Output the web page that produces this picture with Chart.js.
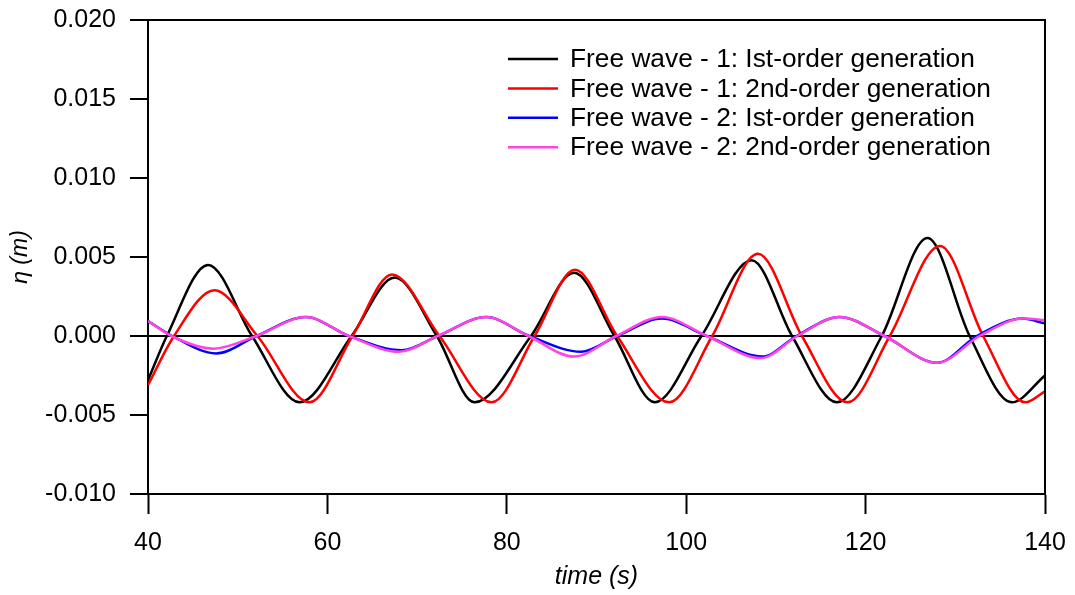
<!DOCTYPE html>
<html>
<head>
<meta charset="utf-8">
<script src="https://cdn.jsdelivr.net/npm/chart.js@4/dist/chart.umd.min.js"></script>
<style>
  body { margin: 0; background: #fff; }
  canvas { display: block; }
</style>
</head>
<body>
<canvas id="waveChart" width="1075" height="595"></canvas>
<script>
// Free wave 1, first-order generation (peaks, troughs, zero crossings)
const tFw1First = [40, 42.1, 46.7, 51.6, 56.9, 62.7, 67.5, 72.2, 76.4, 82.7, 87.5, 92.0, 96.5, 101.7, 107.3, 111.8, 116.8, 121.8, 126.9, 131.6, 136.3, 140];
const etaFw1First = [-0.0028, 0, 0.0045, 0, -0.0042, 0, 0.0037, 0, -0.0042, 0, 0.0040, 0, -0.0042, 0, 0.0048, 0, -0.0042, 0, 0.0062, 0, -0.0042, -0.0025];

// Free wave 1, second-order generation
const tFw1Second = [40, 42.9, 47.4, 52.2, 58.0, 62.8, 67.2, 72.5, 78.3, 83.1, 87.6, 92.3, 98.1, 102.9, 108.0, 112.9, 118.0, 122.7, 128.3, 133.1, 137.8, 140];
const etaFw1Second = [-0.0031, 0, 0.0029, 0, -0.0042, 0, 0.0039, 0, -0.0042, 0, 0.0042, 0, -0.0042, 0, 0.0052, 0, -0.0042, 0, 0.0057, 0, -0.0042, -0.0035];

// Free wave 2, first-order generation
const tFw2First = [40, 42.7, 47.6, 52.1, 57.6, 62.4, 68.3, 72.3, 77.7, 82.5, 88.3, 92.3, 97.3, 102.3, 108.5, 112.3, 117.1, 122.1, 128.0, 132.4, 137.5, 140];
const etaFw2First = [0.00095, 0, -0.0011, 0, 0.0012, 0, -0.0009, 0, 0.0012, 0, -0.0010, 0, 0.0011, 0, -0.0013, 0, 0.0012, 0, -0.0017, 0, 0.0011, 0.0008];

// Free wave 2, second-order generation
const tFw2Second = [40, 42.6, 47.3, 52.1, 57.6, 62.4, 68.0, 72.3, 77.7, 82.4, 87.5, 92.2, 97.3, 102.3, 108.3, 112.4, 117.1, 122.1, 128.0, 132.7, 137.6, 140];
const etaFw2Second = [0.00095, 0, -0.0008, 0, 0.0012, 0, -0.0010, 0, 0.0012, 0, -0.0013, 0, 0.0012, 0, -0.0014, 0, 0.0012, 0, -0.0017, 0, 0.0011, 0.0010];

const seriesLabels = [
  'Free wave - 1: Ist-order generation',
  'Free wave - 1: 2nd-order generation',
  'Free wave - 2: Ist-order generation',
  'Free wave - 2: 2nd-order generation'
];
const seriesColors = ['#000000', '#ff0000', '#0000ff', '#ff44e0'];

const xTicks = { min: 40, max: 140, step: 20 };
const yTicks = { min: -0.010, max: 0.020, step: 0.005 };

function pairs(ts, ys) {
  return ts.map((t, i) => ({ x: t, y: ys[i] }));
}

const FONT = '"Liberation Sans", Arial, sans-serif';
const LINE_W = 2.5;

// legend drawn inside the plot, top right
const insideLegend = {
  id: 'insideLegend',
  afterDraw(chart) {
    const ctx = chart.ctx;
    ctx.save();
    ctx.font = '26.3px ' + FONT;
    ctx.textBaseline = 'middle';
    ctx.textAlign = 'left';
    chart.data.datasets.forEach((ds, i) => {
      const y = 59 + i * 29.4;
      ctx.strokeStyle = ds.borderColor;
      ctx.lineWidth = LINE_W;
      ctx.beginPath();
      ctx.moveTo(508, y);
      ctx.lineTo(558, y);
      ctx.stroke();
      ctx.fillStyle = '#000';
      ctx.fillText(ds.label, 570, y + 1);
    });
    ctx.restore();
  }
};

// top and right frame lines
const frame = {
  id: 'frame',
  afterDatasetsDraw(chart) {
    const { ctx, chartArea: a } = chart;
    ctx.save();
    ctx.strokeStyle = '#000';
    ctx.lineWidth = 2;
    ctx.beginPath();
    ctx.moveTo(a.left, a.top);
    ctx.lineTo(a.right, a.top);
    ctx.lineTo(a.right, a.bottom);
    ctx.stroke();
    ctx.restore();
  }
};

// later datasets (pink, blue) sit on top of the earlier ones
const datasets = [
  pairs(tFw1First, etaFw1First),
  pairs(tFw1Second, etaFw1Second),
  pairs(tFw2First, etaFw2First),
  pairs(tFw2Second, etaFw2Second)
].map((data, i) => ({
  label: seriesLabels[i],
  data,
  borderColor: seriesColors[i],
  order: 3 - i
}));

new Chart(document.getElementById('waveChart'), {
  type: 'line',
  data: { datasets },
  options: {
    responsive: false,
    animation: false,
    layout: { padding: { top: 20, right: 30, left: 0, bottom: 0 } },
    elements: {
      point: { radius: 0 },
      line: { borderWidth: LINE_W, cubicInterpolationMode: 'monotone', fill: false }
    },
    plugins: {
      legend: { display: false },
      tooltip: { enabled: false }
    },
    scales: {
      x: {
        type: 'linear',
        min: xTicks.min,
        max: xTicks.max,
        afterFit(scale) {
          scale.height = 101;
          scale.paddingLeft = 0;
          scale.paddingRight = 0;
        },
        ticks: {
          stepSize: xTicks.step,
          color: '#000',
          padding: 14,
          maxRotation: 0,
          font: { family: FONT, size: 25 }
        },
        grid: { drawOnChartArea: false, tickLength: 20, tickColor: '#000', tickWidth: 2 },
        border: { color: '#000', width: 2 },
        title: {
          display: true,
          text: 'time (s)',
          color: '#000',
          padding: { top: 0, bottom: 3 },
          font: { family: FONT, size: 25, style: 'italic' }
        }
      },
      y: {
        min: yTicks.min,
        max: yTicks.max,
        afterFit(scale) {
          scale.width = 148;
          scale.paddingTop = 0;
          scale.paddingBottom = 0;
        },
        ticks: {
          stepSize: yTicks.step,
          color: '#000',
          padding: 14,
          font: { family: FONT, size: 25 },
          callback: v => v.toFixed(3)
        },
        grid: {
          color: c => (c.tick && Math.abs(c.tick.value) < 1e-9 ? '#000' : 'rgba(0,0,0,0)'),
          lineWidth: 2,
          tickLength: 18,
          tickColor: '#000',
          tickWidth: 2
        },
        border: { color: '#000', width: 2 },
        title: {
          display: true,
          text: 'η (m)',
          color: '#000',
          padding: { top: 7, bottom: 0 },
          font: { family: FONT, size: 23, style: 'italic' }
        }
      }
    }
  },
  plugins: [insideLegend, frame]
});
</script>
</body>
</html>
